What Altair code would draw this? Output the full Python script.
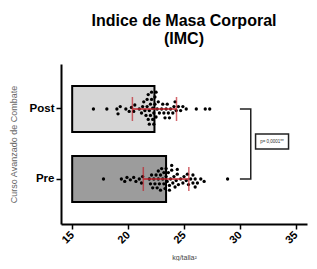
import altair as alt
import pandas as pd
import numpy as np

groups = ["Post", "Pre"]
post_vals = [16.9, 18.1, 19.0, 19.1, 19.3, 19.8, 20.1, 20.3, 20.5, 20.6,
             21.0, 21.2, 21.3, 21.4, 21.5, 21.6, 21.7, 21.7, 21.8, 21.8,
             21.9, 21.9, 22.0, 22.0, 22.1, 22.1, 22.2, 22.2, 22.3, 22.3,
             22.4, 22.4, 22.5, 22.5, 22.6, 22.7, 22.8, 23.0, 23.1, 23.2,
             23.3, 23.4, 23.5, 23.6, 23.7, 23.8, 24.0, 24.1, 24.2, 24.3,
             24.5, 24.7, 24.9, 25.2, 26.1, 26.9, 27.3]
pre_vals = [17.8, 19.4, 19.7, 19.9, 20.2, 20.5, 20.7, 21.0, 21.2, 21.3,
            21.9, 22.0, 22.1, 22.2, 22.3, 22.4, 22.5, 22.6, 22.7, 22.7,
            22.8, 22.9, 22.9, 23.0, 23.1, 23.2, 23.2, 23.3, 23.4, 23.4,
            23.5, 23.6, 23.7, 23.7, 23.8, 23.9, 23.9, 24.0, 24.1, 24.2,
            24.3, 24.4, 24.5, 24.7, 25.0, 25.2, 25.4, 25.6, 25.8, 26.0,
            24.4, 24.9, 25.3, 25.8, 26.0, 26.2, 26.5, 26.8, 28.9]
x_ticks = [15, 20, 25, 30, 35]
bracket_x = [30.0, 30.97, 30.97, 30.0]
bracket_g = ["Post", "Post", "Pre", "Pre"]
p_label = "p= 0,0001**"
x_title = "kg/talla²"

W, H = 246, 160
P_IN, P_OUT = 0.343, 0.314
PX = W / (x_ticks[-1] - x_ticks[0])
STEP = H / (len(groups) - P_IN + 2 * P_OUT)
BW = STEP * (1 - P_IN)
D = 4.3


def swarm(vals):
    order = np.argsort(vals, kind="stable")
    placed, offs = [], [0.0] * len(vals)
    cands = [0.0] + [s * j * 0.8 for j in range(1, 60) for s in (1, -1)]
    for i in order:
        x = vals[i] * PX
        near = [(a, b) for a, b in placed if abs(a - x) < D]
        for c in cands:
            if all((a - x) ** 2 + (b - c) ** 2 >= D * D for a, b in near):
                break
        placed.append((x, c))
        offs[i] = c + BW / 2
    return offs


df = pd.DataFrame({
    "g": ["Post"] * len(post_vals) + ["Pre"] * len(pre_vals),
    "v": post_vals + pre_vals,
    "off": swarm(post_vals) + swarm(pre_vals),
})
br = pd.DataFrame({"x": bracket_x, "g": bracket_g, "o": list(range(4))})

red = "#c0252d"
yscale = alt.Scale(domain=groups, paddingInner=P_IN, paddingOuter=P_OUT)
xscale = alt.Scale(domain=[15, 35], zero=False)

xax = alt.Axis(values=x_ticks, labelAngle=315, labelFontWeight="bold", labelFontSize=11,
               labelFont="Liberation Sans", labelColor="black", domainColor="black",
               domainWidth=2, tickColor="black", tickWidth=1.5, tickSize=5, grid=False,
               labelAlign="right", labelBaseline="middle", labelPadding=4,
               titleFont="Liberation Sans", titleFontSize=7,
               titleFontWeight="normal", titleColor="#444", titlePadding=8)
yax = alt.Axis(labelFontWeight="bold", labelFontSize=11.5, labelFont="Liberation Sans",
               labelColor="black", domainColor="black", domainWidth=2, tickColor="black",
               tickWidth=1.5, tickSize=5, labelPadding=2,
               title="Curso Avanzado de Combate", titleFont="Liberation Sans",
               titleFontSize=9, titleFontWeight="normal", titleColor="#666", titlePadding=11)

bars = alt.Chart(df).mark_bar(stroke="black", strokeWidth=2).encode(
    y=alt.Y("g:N", scale=yscale, axis=yax, sort=groups),
    x=alt.X("mean(v):Q", scale=xscale, axis=xax, title=x_title),
    x2=alt.datum(15),
    color=alt.Color("g:N", scale=alt.Scale(domain=groups, range=["#d6d6d6", "#9c9c9c"]), legend=None),
)

dots = alt.Chart(df).mark_circle(size=11, color="black", opacity=1).encode(
    y=alt.Y("g:N", scale=yscale, sort=groups),
    x=alt.X("v:Q", scale=xscale, title=x_title),
    yOffset=alt.YOffset("off:Q", scale=None),
)

err = alt.Chart(df).mark_errorbar(
    extent="stdev", color=red, thickness=1.5,
    ticks={"size": 24, "thickness": 1.5, "color": red},
).encode(
    y=alt.Y("g:N", scale=yscale, sort=groups),
    x=alt.X("v:Q", scale=xscale, title=x_title),
)

bracket = alt.Chart(br).mark_line(color="#222", strokeWidth=1.5).encode(
    x=alt.X("x:Q", scale=xscale, title=x_title),
    y=alt.Y("g:N", scale=yscale, sort=groups),
    order="o:Q",
)

box = alt.Chart(br.head(1)).mark_rect(fill="white", stroke="#222", strokeWidth=1.5).encode(
    x=alt.datum(31.4), x2=alt.datum(34.35), y=alt.value(70), y2=alt.value(85),
)
ptext = alt.Chart(br.head(1)).mark_text(fontSize=4.5, font="Liberation Sans", color="#333").encode(
    x=alt.datum(32.87), y=alt.value(77.5), text=alt.value(p_label),
)

chart = alt.layer(bars, dots, err, bracket, box, ptext).properties(
    width=W, height=H,
    title=alt.Title(["Indice de Masa Corporal", "(IMC)"], fontSize=16, font="Liberation Sans",
                    fontWeight="bold", color="black", lineHeight=18, anchor="middle", offset=17),
    autosize=alt.AutoSizeParams(type="none"),
    padding={"left": 53, "top": 56, "right": 2, "bottom": 37},
).configure_view(stroke=None)

chart.save("out.html", embed_options={"renderer": "svg", "actions": False})
